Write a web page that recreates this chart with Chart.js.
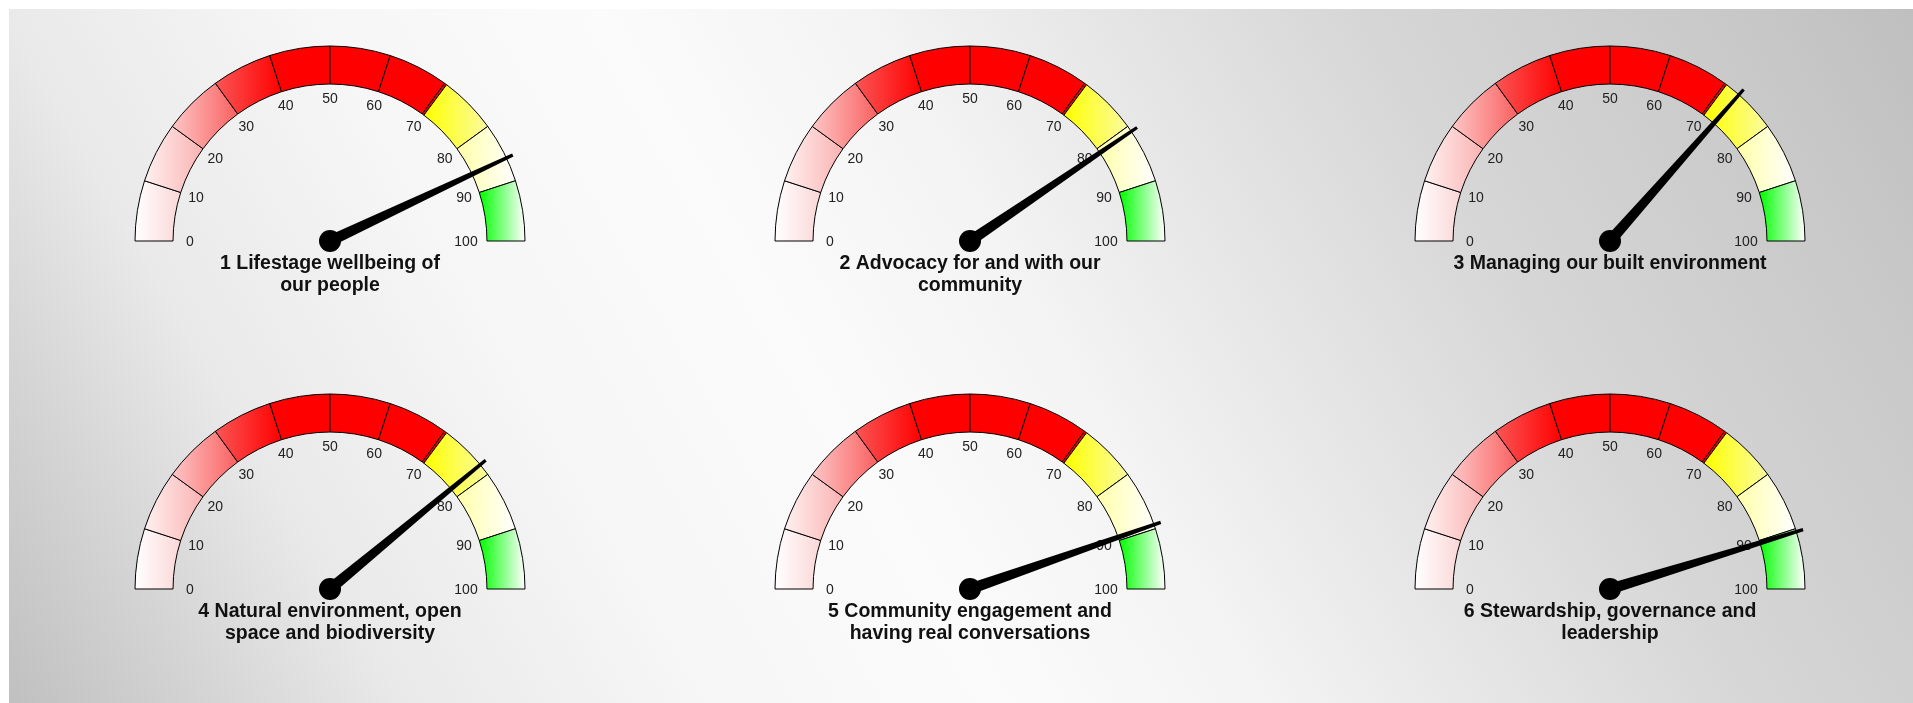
<!DOCTYPE html>
<html>
<head>
<meta charset="utf-8">
<script src="https://cdn.jsdelivr.net/npm/chart.js@4.4.1/dist/chart.umd.min.js"></script>
<style>
    body { margin: 0; background: #ffffff; width: 1913px; height: 703px; overflow: hidden; }
    #panel {
        position: absolute; left: 9px; top: 9px; width: 1904px; height: 694px;
        background: linear-gradient(60deg, #c0c0c0 0%, #d5d5d5 9%, #e9e9e9 17%, #f6f6f6 30%, #fbfbfb 43%,
            #f3f3f3 55%, #d6d6d6 76%, #c8c8c8 92%, #bfbfbf 100%);
    }
    .gauge { position: absolute; width: 640px; height: 340px; }
</style>
</head>
<body>
<div id="panel"></div>
<div id="gauges"></div>
<script>
// gauge readings, left to right, top row first
const VALUES = [86, 81, 73, 78, 89.3, 90.5];

const TITLES = [
    ["1 Lifestage wellbeing of", "our people"],
    ["2 Advocacy for and with our", "community"],
    ["3 Managing our built environment"],
    ["4 Natural environment, open", "space and biodiversity"],
    ["5 Community engagement and", "having real conversations"],
    ["6 Stewardship, governance and", "leadership"]
];

const TICKS = [0, 10, 20, 30, 40, 50, 60, 70, 80, 90, 100];

// colour bands of the dial
const BAND_STARTS = [0, 10, 20, 30, 40, 50, 60, 70, 70.4, 80, 90];
const BAND_ENDS = [10, 20, 30, 40, 50, 60, 70, 70.4, 80, 90, 100];
const BAND_LEFT = ['#ffffff', '#fff0f0', '#fdc6c6', '#fa5656', '#ff0000', '#ff0000', '#ff0000', '#ff0000', '#ffff00', '#ffffa8', '#00ff00'];
const BAND_RIGHT = ['#fbd6d6', '#fbb2b2', '#fa6060', '#ff0000', '#ff0000', '#ff0000', '#ff0000', '#ff0000', '#fbfba0', '#ffffff', '#ffffff'];

// where each gauge canvas sits on the page
const GAUGE_LEFT = [10, 650, 1290, 10, 650, 1290];
const GAUGE_TOP = [9, 9, 9, 357, 357, 357];

const FONT = "'Liberation Sans', Arial, Helvetica, sans-serif";

function bandFill(c) {
    var i = c.dataIndex;
    if (i === undefined) return '#ff0000';
    var chart = c.chart;
    var area = chart.chartArea;
    var ctrl = chart.getDatasetMeta(0).controller;
    if (!area || !ctrl || !ctrl.outerRadius) return BAND_LEFT[i];
    var cx = (area.left + area.right) / 2 + (ctrl.offsetX || 0);
    var R = ctrl.outerRadius, r = ctrl.innerRadius;
    var a0 = Math.PI * (1 - BAND_STARTS[i] / 100);
    var a1 = Math.PI * (1 - BAND_ENDS[i] / 100);
    var xs = [R * Math.cos(a0), r * Math.cos(a0), R * Math.cos(a1), r * Math.cos(a1)];
    var g = chart.ctx.createLinearGradient(cx + Math.min.apply(null, xs), 0, cx + Math.max.apply(null, xs), 0);
    g.addColorStop(0, BAND_LEFT[i]);
    g.addColorStop(1, BAND_RIGHT[i]);
    return g;
}

// tick numbers, needle, hub and caption
const gaugeDecor = {
    id: 'gaugeDecor',
    afterDatasetsDraw: function (chart, args, opts) {
        var ctx = chart.ctx;
        var arc = chart.getDatasetMeta(0).data[0];
        var cx = arc.x, cy = arc.y;
        ctx.save();

        ctx.fillStyle = '#222';
        ctx.font = '14px ' + FONT;
        ctx.textAlign = 'center';
        ctx.textBaseline = 'middle';
        TICKS.forEach(function (t) {
            var a = Math.PI * (1 - t / 100);
            var lr = 140 + 3 * Math.sin(a);
            var x = cx + lr * Math.cos(a) - (t === 100 ? 4 : 0);
            ctx.fillText(String(t), x, cy - lr * Math.sin(a) + 1);
        });

        // needle
        var v = opts.value;
        var a = Math.PI * (1 - v / 100);
        var ux = Math.cos(a), uy = -Math.sin(a);
        var px = -uy, py = ux;
        var L = 202, w0 = 5.5, w1 = 1.6;
        ctx.fillStyle = '#000';
        ctx.beginPath();
        ctx.moveTo(cx + px * w0, cy + py * w0);
        ctx.lineTo(cx + ux * L + px * w1, cy + uy * L + py * w1);
        ctx.lineTo(cx + ux * L - px * w1, cy + uy * L - py * w1);
        ctx.lineTo(cx - px * w0, cy - py * w0);
        ctx.closePath();
        ctx.fill();
        ctx.beginPath();
        ctx.arc(cx, cy, 11, 0, Math.PI * 2);
        ctx.fill();

        // caption
        ctx.fillStyle = '#111';
        ctx.font = 'bold 19.5px ' + FONT;
        opts.title.forEach(function (line, k) {
            ctx.fillText(line, cx, cy + 23 + k * 21.5);
        });
        ctx.restore();
    }
};

function makeGauge(n) {
    var holder = document.createElement('div');
    holder.className = 'gauge';
    holder.style.left = GAUGE_LEFT[n] + 'px';
    holder.style.top = GAUGE_TOP[n] + 'px';
    var canvas = document.createElement('canvas');
    canvas.width = 640;
    canvas.height = 340;
    holder.appendChild(canvas);
    document.getElementById('gauges').appendChild(holder);

    new Chart(canvas, {
        type: 'doughnut',
        data: {
            labels: BAND_STARTS.map(function (s, i) { return s + '-' + BAND_ENDS[i]; }),
            datasets: [{
                data: BAND_ENDS.map(function (e, i) { return e - BAND_STARTS[i]; }),
                backgroundColor: bandFill,
                borderColor: '#000',
                borderWidth: 1
            }]
        },
        options: {
            responsive: false,
            animation: false,
            rotation: -90,
            circumference: 180,
            radius: 195,
            cutout: '80.5%',
            layout: { padding: { left: 0, right: 0, top: 37, bottom: 108 } },
            events: [],
            plugins: {
                legend: { display: false },
                tooltip: { enabled: false },
                gaugeDecor: { value: VALUES[n], title: TITLES[n] }
            }
        },
        plugins: [gaugeDecor]
    });
}

for (var n = 0; n < VALUES.length; n++) {
    makeGauge(n);
}
</script>
</body>
</html>
